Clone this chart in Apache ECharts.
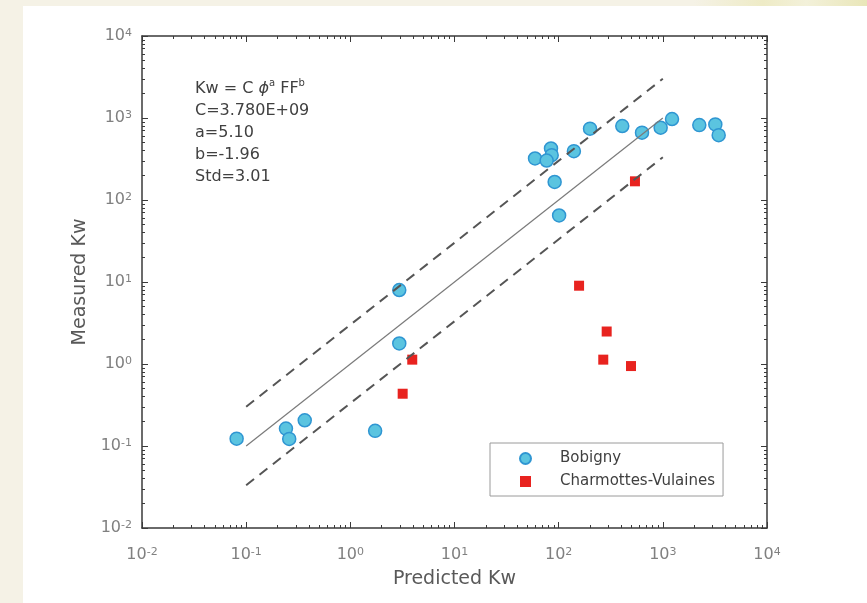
<!DOCTYPE html>
<html>
<head>
<meta charset="utf-8">
<script src="https://cdn.jsdelivr.net/npm/echarts@6/dist/echarts.min.js"></script>
<style>
  html, body { margin: 0; padding: 0; background: #F5F2E6; }
  #strip { position: absolute; left: 0; top: 0; width: 867px; height: 6px;
    background: linear-gradient(to right, #F5F2E6 0%, #F5F2E6 80%, #EEEBC6 88%, #F3F1DA 93%, #E9E6B8 100%); }
  #panel { position: absolute; left: 23px; top: 6px; right: 0; bottom: 0; background: #ffffff; }
  #main { position: absolute; left: 0; top: 0; width: 867px; height: 603px; }
</style>
</head>
<body>
<div id="strip"></div>
<div id="panel"></div>
<div id="main"></div>
<script>
// Bobigny (predicted, measured)
const bobignyX = [0.081, 0.241, 0.259, 0.365, 1.73, 2.95, 2.95, 59.3, 84.4, 85.7, 76.7, 91.5, 101, 140, 200, 408, 631, 953, 1225, 2239, 3190, 3436];
const bobignyY = [0.123, 0.163, 0.122, 0.206, 0.153, 1.78, 7.98, 321, 425, 352, 303, 166, 64.8, 394, 741, 798, 662, 762, 971, 820, 836, 618];
// Charmottes-Vulaines
const charmX = [3.18, 3.93, 157, 268, 289, 495, 540];
const charmY = [0.434, 1.13, 9.01, 1.13, 2.49, 0.944, 169];
// fit line and +/- Std band, end points
const fitX = [0.1, 1000];
const fitY = [0.1, 1000];
const upperY = [0.301, 3010];
const lowerY = [0.0332, 332];

const majorTicks = [0.01, 0.1, 1, 10, 100, 1000, 10000];
const minorSteps = [2, 3, 4, 5, 6, 7, 8, 9];
const fitText = ['Kw = C {phi|ϕ}{sup|a} FF{sup|b}', 'C=3.780E+09', 'a=5.10', 'b=-1.96', 'Std=3.01'];

const font = '"DejaVu Sans", sans-serif';
let minorTicks = [];
majorTicks.slice(0, -1).forEach(t => {
  minorSteps.forEach(m => minorTicks.push(+(t * m).toPrecision(3)));
});

const zip = (xs, ys) => xs.map((x, i) => [x, ys[i]]);

// one log axis; several are stacked on each side for major / minor ticks
function makeAxis(position, values, tickLen, main, labels, margin) {
  return {
    type: 'log',
    logBase: 10,
    min: 0.01,
    max: 10000,
    position: position,
    axisLine: { show: main, onZero: false, lineStyle: { color: '#3a3a3a', width: 1.5 } },
    axisTick: { show: true, inside: true, length: tickLen, customValues: values,
      lineStyle: { color: '#3a3a3a', width: 1 } },
    axisLabel: {
      show: labels,
      customValues: majorTicks,
      margin: margin || 10,
      color: '#808080',
      fontFamily: font,
      fontSize: 16,
      formatter: v => '10{sup|' + Math.round(Math.log10(v)) + '}',
      rich: { sup: { fontSize: 11, verticalAlign: 'top', lineHeight: 10, color: '#808080', fontFamily: font } }
    },
    splitLine: { show: false },
    minorSplitLine: { show: false }
  };
}

const xBottom = makeAxis('bottom', majorTicks, 6, true, true, 19);
xBottom.name = 'Predicted Kw';
xBottom.nameLocation = 'middle';
xBottom.nameGap = 42;
xBottom.nameTextStyle = { color: '#595959', fontFamily: font, fontSize: 19 };

const yLeft = makeAxis('left', majorTicks, 6, true, true, 10);
yLeft.name = 'Measured Kw';
yLeft.nameLocation = 'middle';
yLeft.nameGap = 50;
yLeft.nameTextStyle = { color: '#595959', fontFamily: font, fontSize: 19 };

const chart = echarts.init(document.getElementById('main'));

const option = {
  animation: false,
  backgroundColor: 'transparent',
  grid: { left: 142, right: 100, top: 36, bottom: 75 },
  xAxis: [
    xBottom,
    makeAxis('bottom', minorTicks, 3, false, false),
    makeAxis('top', majorTicks, 6, true, false),
    makeAxis('top', minorTicks, 3, false, false)
  ],
  yAxis: [
    yLeft,
    makeAxis('left', minorTicks, 3, false, false),
    makeAxis('right', majorTicks, 6, true, false),
    makeAxis('right', minorTicks, 3, false, false)
  ],
  legend: {
    data: ['Bobigny', 'Charmottes-Vulaines'],
    orient: 'vertical',
    left: 490,
    top: 443,
    padding: [8, 8, 7, 29],
    itemWidth: 11,
    itemHeight: 11,
    itemGap: 8,
    backgroundColor: '#ffffff',
    borderColor: '#9a9a9a',
    borderWidth: 1,
    borderRadius: 0,
    textStyle: { color: '#404040', fontFamily: font, fontSize: 15, padding: [0, 0, 0, 24] }
  },
  graphic: [{
    type: 'text',
    left: 195,
    top: 78,
    style: {
      text: fitText.join('\n'),
      fill: '#404040',
      font: '16px ' + font,
      lineHeight: 22,
      rich: {
        phi: { fontStyle: 'italic', fontSize: 16, fontFamily: font, fill: '#404040', lineHeight: 22 },
        sup: { fontSize: 10, fontFamily: font, verticalAlign: 'top', lineHeight: 22, fill: '#404040' }
      }
    }
  }],
  series: [
    {
      name: 'Bobigny',
      type: 'scatter',
      symbol: 'circle',
      symbolSize: 13,
      z: 2,
      itemStyle: { color: '#5BC4E0', borderColor: '#2F96D2', borderWidth: 1.5, opacity: 1 },
      data: zip(bobignyX, bobignyY)
    },
    {
      name: 'Charmottes-Vulaines',
      type: 'scatter',
      symbol: 'rect',
      symbolSize: 10,
      z: 2,
      itemStyle: { color: '#E8231F', opacity: 1 },
      data: zip(charmX, charmY)
    },
    {
      name: 'fit',
      type: 'line',
      showSymbol: false,
      z: 3,
      lineStyle: { color: '#7a7a7a', width: 1.2 },
      data: zip(fitX, fitY)
    },
    {
      name: 'upper',
      type: 'line',
      showSymbol: false,
      z: 3,
      lineStyle: { color: '#555555', width: 2, type: [10, 7] },
      data: zip(fitX, upperY)
    },
    {
      name: 'lower',
      type: 'line',
      showSymbol: false,
      z: 3,
      lineStyle: { color: '#555555', width: 2, type: [10, 7] },
      data: zip(fitX, lowerY)
    }
  ]
};

chart.setOption(option);
</script>
</body>
</html>
